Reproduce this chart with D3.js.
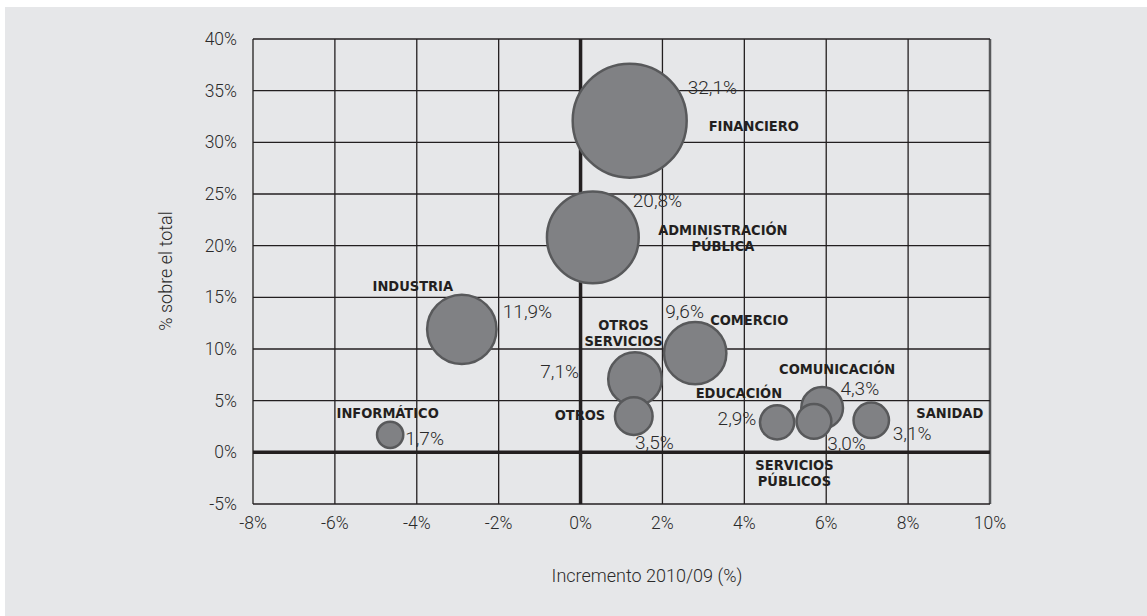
<!DOCTYPE html>
<html>
<head>
<meta charset="utf-8">
<script src="https://cdn.jsdelivr.net/npm/d3@7"></script>
<style>
  html, body { margin: 0; padding: 0; background: #fff; }
  .tick-label { font-family: Roboto, "Liberation Sans", sans-serif; font-weight: 300; fill: #2a2a2a; }
  .name { font-family: "Liberation Sans Narrow", "DejaVu Sans Condensed", sans-serif; font-weight: bold; fill: #231f20; }
</style>
</head>
<body>
<div class="canvas"></div>
<script>
// sectors: name, growth 2010/09 (%), share of total (%)
const sectors = ['FINANCIERO', 'ADMINISTRACIÓN PÚBLICA', 'INDUSTRIA', 'INFORMÁTICO', 'OTROS SERVICIOS',
                 'OTROS', 'COMERCIO', 'EDUCACIÓN', 'COMUNICACIÓN', 'SERVICIOS PÚBLICOS', 'SANIDAD'];
const growth = [1.2, 0.3, -2.9, -4.65, 1.33, 1.3, 2.8, 4.8, 5.9, 5.7, 7.1];
const share  = [32.1, 20.8, 11.9, 1.7, 7.1, 3.5, 9.6, 2.9, 4.3, 3.0, 3.1];
const shareText = ['32,1%', '20,8%', '11,9%', '1,7%', '7,1%', '3,5%', '9,6%', '2,9%', '4,3%', '3,0%', '3,1%'];
const xTicks = [-8, -6, -4, -2, 0, 2, 4, 6, 8, 10];
const yTicks = [-5, 0, 5, 10, 15, 20, 25, 30, 35, 40];

// label placement, pixels from the bubble centre
const nameLayout = [
  {dx: 79, dy: [10], anchor: 'start'},
  {dx: 130, dy: [-2.5, 13.5], anchor: 'middle'},
  {dx: -49, dy: [-38], anchor: 'middle'},
  {dx: -2.5, dy: [-17], anchor: 'middle'},
  {dx: -11.5, dy: [-49, -33], anchor: 'middle'},
  {dx: -28.5, dy: [4], anchor: 'end'},
  {dx: 15, dy: [-28.3], anchor: 'start'},
  {dx: 5, dy: [-24], anchor: 'end'},
  {dx: 15, dy: [-34], anchor: 'middle'},
  {dx: -19.5, dy: [48.3, 64.5], anchor: 'middle'},
  {dx: 45, dy: [-2.5], anchor: 'start'}
];
const valueLayout = [
  {dx: 58, dy: -27, anchor: 'start'},
  {dx: 40, dy: -30, anchor: 'start'},
  {dx: 41, dy: -11, anchor: 'start'},
  {dx: 15, dy: 10.6, anchor: 'start'},
  {dx: -56, dy: -1, anchor: 'end'},
  {dx: 1.3, dy: 32.4, anchor: 'start'},
  {dx: -30, dy: -35, anchor: 'start'},
  {dx: -20.7, dy: 2.5, anchor: 'end'},
  {dx: 18.3, dy: -13, anchor: 'start'},
  {dx: 13.2, dy: 28.5, anchor: 'start'},
  {dx: 21.5, dy: 20, anchor: 'start'}
];
const nameLines = {'ADMINISTRACIÓN PÚBLICA': ['ADMINISTRACIÓN', 'PÚBLICA'],
                   'OTROS SERVICIOS': ['OTROS', 'SERVICIOS'],
                   'SERVICIOS PÚBLICOS': ['SERVICIOS', 'PÚBLICOS']};

const [width, height] = [1147, 616];
const svg = d3.select('.canvas').append('svg')
  .attr('width', width).attr('height', height);

svg.append('rect').attr('x', 5).attr('y', 7)
  .attr('width', width - 5).attr('height', height - 7)
  .attr('fill', '#e6e7e9');

const x = d3.scaleLinear().domain([-8, 10]).range([253, 990]);
const y = d3.scaleLinear().domain([-5, 40]).range([504, 39]);
const r = d3.scaleSqrt().domain([0, 32.1]).range([0, 57]);

const grid = svg.append('g');
grid.selectAll('line.v').data(xTicks).enter().append('line')
  .attr('x1', d => x(d)).attr('x2', d => x(d))
  .attr('y1', y(40)).attr('y2', y(-5))
  .attr('stroke', d => d === 10 ? '#58595b' : '#231f20')
  .attr('stroke-width', d => d === 0 ? 3.5 : (d === 10 ? 2.5 : 1.3));
grid.selectAll('line.h').data(yTicks).enter().append('line')
  .attr('x1', x(-8)).attr('x2', x(10))
  .attr('y1', d => y(d)).attr('y2', d => y(d))
  .attr('stroke', '#231f20')
  .attr('stroke-width', d => d === 0 ? 3.5 : 1.3);

svg.append('g').selectAll('text').data(yTicks).enter().append('text')
  .attr('class', 'tick-label')
  .attr('x', 237).attr('y', d => y(d) + 6)
  .attr('text-anchor', 'end').attr('font-size', 17.5)
  .text(d => d + '%');
svg.append('g').selectAll('text').data(xTicks).enter().append('text')
  .attr('class', 'tick-label')
  .attr('x', d => x(d)).attr('y', y(-5) + 24.5)
  .attr('text-anchor', 'middle').attr('font-size', 17.5)
  .text(d => d + '%');

svg.append('text').attr('class', 'tick-label')
  .attr('transform', 'translate(172,271) rotate(-90)')
  .attr('text-anchor', 'middle').attr('font-size', 18)
  .text('% sobre el total');
svg.append('text').attr('class', 'tick-label')
  .attr('x', 647).attr('y', 582)
  .attr('text-anchor', 'middle').attr('font-size', 18)
  .text('Incremento 2010/09 (%)');

const idx = d3.range(sectors.length);

svg.append('g').selectAll('circle').data(idx).enter().append('circle')
  .attr('cx', i => x(growth[i])).attr('cy', i => y(share[i]))
  .attr('r', i => r(share[i]))
  .attr('fill', '#808184').attr('stroke', '#58595b').attr('stroke-width', 2.5);

svg.append('g').selectAll('text').data(idx).enter().append('text')
  .attr('class', 'tick-label').attr('font-size', 19)
  .attr('x', i => x(growth[i]) + valueLayout[i].dx)
  .attr('y', i => y(share[i]) + valueLayout[i].dy)
  .attr('text-anchor', i => valueLayout[i].anchor)
  .text(i => shareText[i]);

const names = svg.append('g').selectAll('text').data(idx).enter().append('text')
  .attr('class', 'name').attr('font-size', 14.5)
  .attr('text-anchor', i => nameLayout[i].anchor);
names.selectAll('tspan')
  .data(i => (nameLines[sectors[i]] || [sectors[i]]).map((t, k) => ({i, t, k})))
  .enter().append('tspan')
  .attr('x', d => x(growth[d.i]) + nameLayout[d.i].dx)
  .attr('y', d => y(share[d.i]) + nameLayout[d.i].dy[d.k])
  .text(d => d.t);
</script>
</body>
</html>
